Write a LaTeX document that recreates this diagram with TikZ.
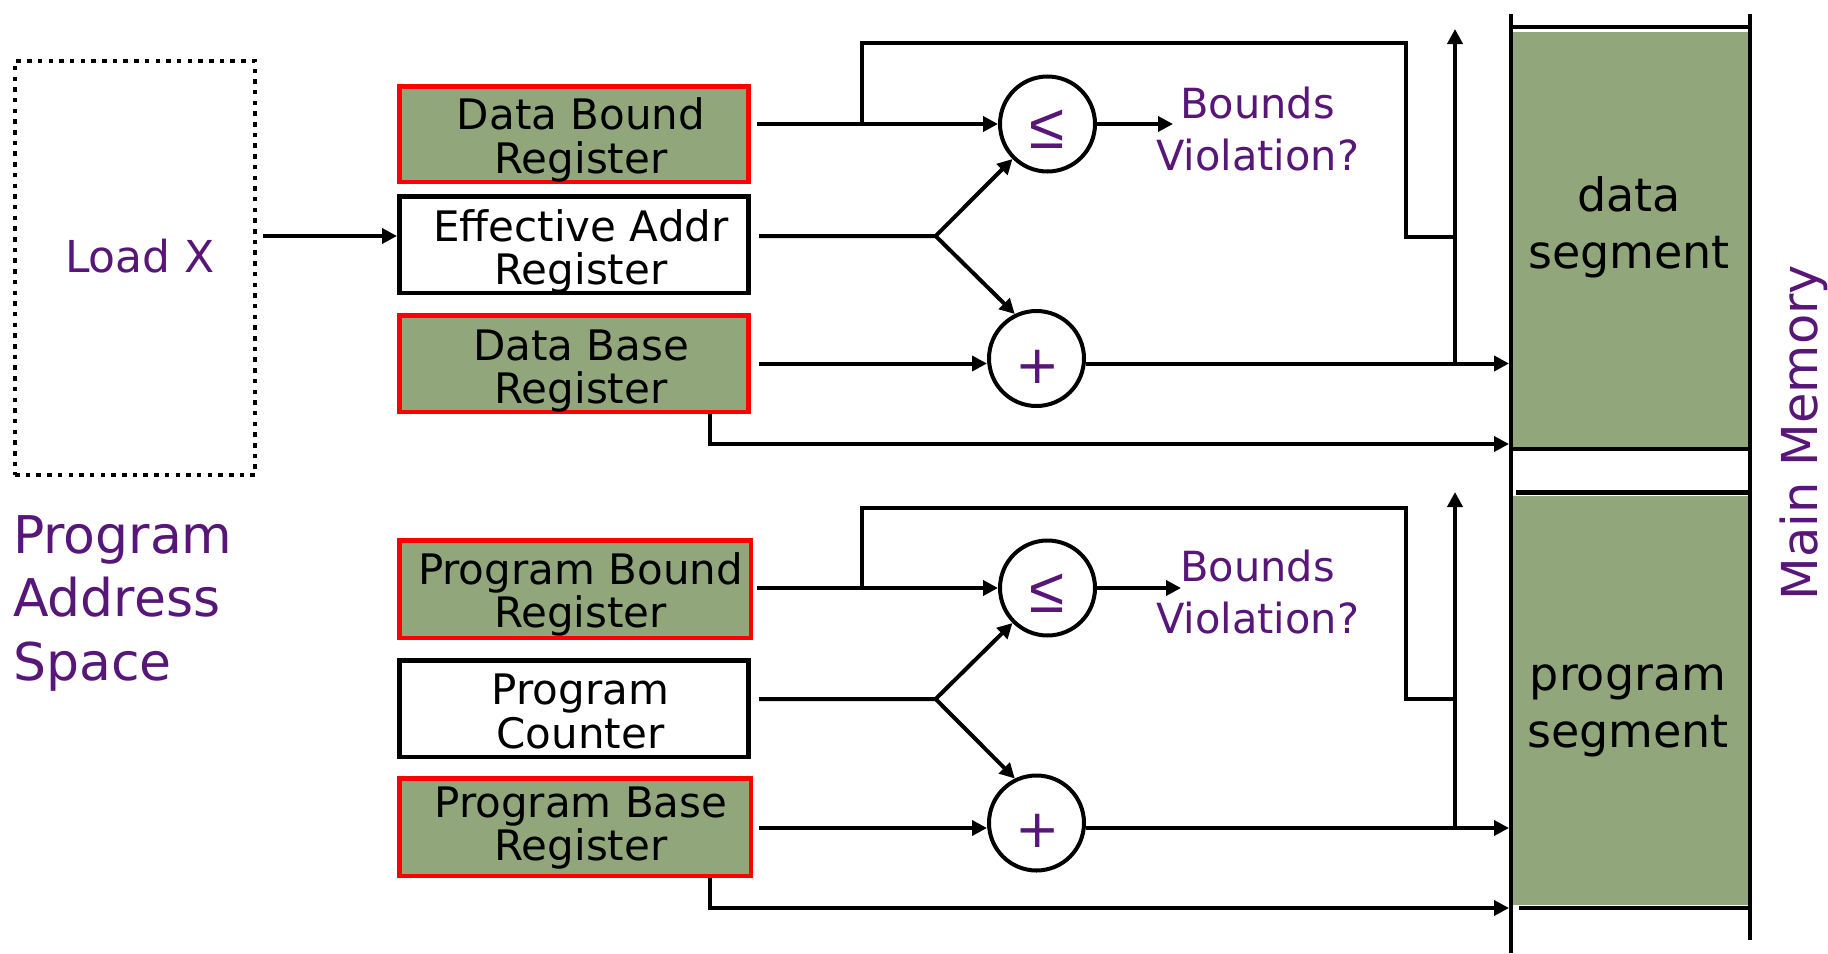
\documentclass[tikz,border=0pt]{standalone}
\usepackage{fontspec}
\setmainfont{DejaVu Sans}
\newfontfamily\symfont{Liberation Sans}
\usetikzlibrary{arrows.meta}
\definecolor{seggreen}{RGB}{145,166,123}
\definecolor{txtpurple}{RGB}{88,22,120}
\tikzset{
  wire/.style={line width=4pt},
  arr/.style={wire,-{Triangle[length=15pt,width=15pt]}},
  regbox/.style={rectangle,line width=4.5pt,minimum height=96.5pt,inner sep=0pt},
  boundreg/.style={regbox,draw=red,fill=seggreen},
  plainreg/.style={regbox,draw=black,fill=white},
  regtext/.style={font=\fontsize{42pt}{43.5pt}\selectfont,align=center,inner sep=0pt},
  opcircle/.style={circle,draw=black,line width=4pt,minimum size=95pt,inner sep=0pt},
  lesym/.style={text=txtpurple,font=\symfont\fontsize{64pt}{64pt}\selectfont,inner sep=0pt},
  plussym/.style={text=txtpurple,font=\fontsize{53pt}{53pt}\selectfont,inner sep=0pt},
  bvtext/.style={text=txtpurple,font=\fontsize{41.5pt}{52pt}\selectfont,align=center,inner sep=0pt},
  segfill/.style={rectangle,fill=seggreen,inner sep=0pt,minimum width=235.5pt},
  segtext/.style={font=\fontsize{46pt}{57pt}\selectfont,align=center,inner sep=0pt},
  memline/.style={line width=4.5pt},
  ptext/.style={text=txtpurple,inner sep=0pt},
}
\begin{document}
\begin{tikzpicture}[x=1pt,y=-1pt]
\useasboundingbox (0,0) rectangle (1828,953);
% program address space
\node[draw=black,line width=4.5pt,dash pattern=on 4.5pt off 6.2pt,minimum width=240pt,minimum height=414pt,inner sep=0pt] (space) at (135,268) {};
\node[ptext,font=\fontsize{44pt}{44pt}\selectfont] (loadx) at (140,256.3) {Load X};
\node[ptext,font=\fontsize{52pt}{63.5pt}\selectfont,align=left,anchor=north west] (pas) at (13,515) {Program\\Address\\Space};
% registers
\node[boundreg,minimum width=349pt,minimum height=95.5pt] (dbr) at (573.75,134) {};
\node[plainreg,minimum width=349pt] (ear) at (573.75,244.5) {};
\node[boundreg,minimum width=349pt] (dbase) at (573.75,363.5) {};
\node[boundreg,minimum width=351.5pt,minimum height=97.5pt] (pbr) at (575,589) {};
\node[plainreg,minimum width=349pt] (pc) at (573.75,708.5) {};
\node[boundreg,minimum width=351.5pt,minimum height=97.5pt] (pbase) at (575,827) {};
\node[regtext] (dbrt) at (581,139.8) {Data Bound\\Register};
\node[regtext] (eart) at (581,251.5) {Effective Addr\\Register};
\node[regtext] (dbaset) at (581,370.9) {Data Base\\Register};
\node[regtext] (pbrt) at (580.5,594.2) {Program Bound\\Register};
\node[regtext] (pct) at (580.5,711.5) {Program\\Counter};
\node[regtext] (pbaset) at (581,827.8) {Program Base\\Register};
% comparators and adders
\node[opcircle] (le1) at (1047.5,124) {};
\node[lesym] (le1s) at (1047.5,129.5) {≤};
\node[opcircle] (plus1) at (1036.5,358.5) {};
\node[plussym] (plus1s) at (1037.5,367) {+};
\node[opcircle] (le2) at (1047.5,588) {};
\node[lesym] (le2s) at (1047.5,593.5) {≤};
\node[opcircle] (plus2) at (1036.5,823) {};
\node[plussym] (plus2s) at (1037.5,831) {+};
\node[bvtext] (bvt1) at (1257.5,129.3) {Bounds\\Violation?};
\node[bvtext] (bvt2) at (1257.5,592.3) {Bounds\\Violation?};
% memory
\node[segfill,minimum height=415pt] (dseg) at (1630.75,239.5) {};
\node[segfill,minimum height=409pt] (pseg) at (1630.75,700.5) {};
\node[segtext] (dsegt) at (1629,227.5) {data\\segment};
\node[segtext] (psegt) at (1628,711.3) {program\\segment};
\draw[memline] (1511,14) -- (1511,953);
\draw[memline] (1750,14) -- (1750,940);
\draw[memline] (1511,27) -- (1750,27);
\draw[memline] (1511,449) -- (1750,449);
\draw[memline] (1516,492.5) -- (1750,492.5);
\draw[memline] (1519,908) -- (1750,908);
\node[ptext,font=\fontsize{49.5pt}{49.5pt}\selectfont,rotate=90,anchor=base] (mm) at (1817,432.5) {Main Memory};
% coordinates
\coordinate (wallL) at (1509,0);
\coordinate (eain) at ([yshift=8.5pt]ear.west);
\coordinate (fork1) at (935.6,236);
\coordinate (tap1) at (862,124);
\coordinate (tr1) at (1406,43);
\coordinate (busj1) at (1455,237);
\coordinate (p1in) at ([yshift=-5pt]plus1.west);
\coordinate (p1out) at ([yshift=-5pt]plus1.east);
\coordinate (bust1) at (1455,29);
\coordinate (dlow) at (710,444);
\coordinate (bv1) at (1173,124);
\coordinate (fork2) at (935.6,699);
\coordinate (tap2) at (862,588);
\coordinate (tr2) at (1406,508);
\coordinate (busj2) at (1455,699);
\coordinate (p2in) at ([yshift=-5pt]plus2.west);
\coordinate (p2out) at ([yshift=-5pt]plus2.east);
\coordinate (bust2) at (1455,492);
\coordinate (dlow2) at (710,908);
\coordinate (bv2) at (1181,588);
% connectors: load
\draw[arr] ([xshift=6pt]space.east |- eain) -- (eain);
% data group
\draw[arr] ([xshift=6pt]dbr.east |- le1.west) -- (le1.west);
\draw[wire] (tap1) |- (tr1) |- (busj1);
\draw[arr] ([xshift=8.5pt]ear.east |- fork1) -- (fork1) -- (le1.225);
\draw[arr,line cap=round] (fork1) -- (plus1.116.8);
\draw[arr] ([xshift=8.5pt]dbase.east |- p1in) -- (p1in);
\draw[arr] (p1out) -- (p1out -| wallL);
\draw[arr] (p1out -| bust1) -- (bust1);
\draw[arr] (dbase.south -| dlow) |- (dlow -| wallL);
\draw[arr] (le1.east) -- (bv1);
% program group
\draw[arr] ([xshift=3.5pt]pbr.east |- le2.west) -- (le2.west);
\draw[wire] (tap2) |- (tr2) |- (busj2);
\draw[arr] ([xshift=8.5pt]pc.east |- fork2) -- (fork2) -- (le2.225);
\draw[arr,line cap=round] (fork2) -- (plus2.116.8);
\draw[arr] ([xshift=6pt]pbase.east |- p2in) -- (p2in);
\draw[arr] (p2out) -- (p2out -| wallL);
\draw[arr] (p2out -| bust2) -- (bust2);
\draw[arr] (pbase.south -| dlow2) |- (dlow2 -| wallL);
\draw[arr] (le2.east) -- (bv2);
\end{tikzpicture}
\end{document}
